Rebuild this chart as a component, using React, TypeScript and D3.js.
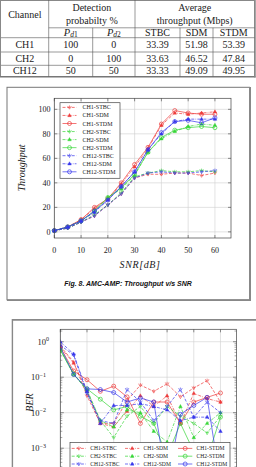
import React from 'react';
import * as d3 from 'd3';

// ---------- data ----------
const snr = [0, 5, 10, 15, 20, 25, 30, 35, 40, 45, 50, 55, 60];

const tpCh1Stbc = [1, 3, 8, 13, 22, 31, 44, 47, 47, 48, 48, 46, 48];
const tpCh1Sdm = [1, 4, 10, 19, 27, 39, 53, 68, 87, 97, 96, 97, 98];
const tpCh1Stdm = [1, 4, 10, 20, 27, 40, 55, 69, 88, 99, 97, 96, 96];
const tpCh2Stbc = [1, 3, 8, 14, 22, 32, 45, 48, 50, 49, 49, 50, 49];
const tpCh2Sdm = [1, 4, 9, 17, 28, 35, 46, 65, 76, 82, 86, 88, 87];
const tpCh2Stdm = [1, 4, 9, 17, 28, 36, 47, 65, 77, 83, 85, 86, 85];
const tpCh12Stbc = [1, 3, 8, 13, 22, 31, 44, 48, 49, 48, 48, 49, 50];
const tpCh12Sdm = [1, 4, 9, 16, 26, 37, 49, 67, 80, 90, 92, 92, 92];
const tpCh12Stdm = [1, 4, 9, 17, 26, 37, 49, 67, 81, 90, 91, 89, 93];

const berCh1Stbc = [0.75, 0.27, 0.03, 0.005, 0.005, 0.022, 0.06, 0.04, 0.065, 0.028, 0.05, 0.08, 0.02];
const berCh1Sdm = [0.7, 0.25, 0.04, 0.005, 0.004, 0.011, 0.03, 0.015, 0.03, 0.005, 0.035, 0.025, 0.02];
const berCh1Stdm = [0.7, 0.15, 0.085, 0.04, 0.056, 0.028, 0.005, 0.02, 0.02, 0.005, 0.02, 0.027, 0.036];
const berCh2Stbc = [0.6, 0.13, 0.04, 0.006, 0.002, 0.008, 0.015, 0.005, 0.015, 0.008, 0.005, 0.0027, 0.008];
const berCh2Sdm = [0.6, 0.12, 0.045, 0.006, 0.004, 0.012, 0.01, 0.003, 0.0015, 0.015, 0.002, 0.005, 0.01];
const berCh2Stdm = [0.58, 0.12, 0.047, 0.024, 0.012, 0.015, 0.008, 0.005, 0.0006, 0.005, 0.0008, 0.0005, 0.0075];
const berCh12Stbc = [0.8, 0.42, 0.035, 0.006, 0.005, 0.045, 0.02, 0.006, 0.015, 0.045, 0.0075, 0.02, 0.01];
const berCh12Sdm = [1.0, 0.45, 0.04, 0.005, 0.016, 0.016, 0.018, 0.015, 0.012, 0.006, 0.0075, 0.0075, 0.003];
const berCh12Stdm = [0.7, 0.12, 0.047, 0.045, 0.037, 0.02, 0.026, 0.02, 0.0001, 0.009, 0.016, 0.027, 0.0001];

const channels = ['CH1', 'CH2', 'CH12'];
const pd1 = ['100', '0', '50'];
const pd2 = ['0', '100', '50'];
const avgStbc = ['33.39', '33.63', '33.33'];
const avgSdm = ['51.98', '46.52', '49.09'];
const avgStdm = ['53.39', '47.84', '49.95'];

const xTicks = [0, 10, 20, 30, 40, 50, 60];
const tpTicks = [0, 20, 40, 60, 80, 100];
const berExps = [0, -1, -2, -3];

const seriesNames = [
  'CH1-STBC', 'CH1-SDM', 'CH1-STDM',
  'CH2-STBC', 'CH2-SDM', 'CH2-STDM',
  'CH12-STBC', 'CH12-SDM', 'CH12-STDM',
];
const tpData = [tpCh1Stbc, tpCh1Sdm, tpCh1Stdm, tpCh2Stbc, tpCh2Sdm, tpCh2Stdm, tpCh12Stbc, tpCh12Sdm, tpCh12Stdm];
const berData = [berCh1Stbc, berCh1Sdm, berCh1Stdm, berCh2Stbc, berCh2Sdm, berCh2Stdm, berCh12Stbc, berCh12Sdm, berCh12Stdm];

// ---------- styles ----------
const chanColors = ['#ee3b3b', '#36d636', '#3636ec'];
const kinds = ['stbc', 'sdm', 'stdm'];
const dashes: Record<string, string | undefined> = { stbc: '3,1.6', sdm: '3,1.2,0.7,1.2', stdm: undefined };

const series = seriesNames.map((name, i) => ({
  name,
  color: chanColors[Math.floor(i / 3)],
  kind: kinds[i % 3],
  tp: tpData[i],
  ber: berData[i],
}));

const SERIF = '"Liberation Serif", "DejaVu Serif", serif';
const SANS = '"Liberation Sans", Arial, sans-serif';

function Marker({ kind, x, y, color }: { kind: string; x: number; y: number; color: string }) {
  if (kind === 'stdm') return <circle cx={x} cy={y} r={2} fill="none" stroke={color} strokeWidth={0.7} />;
  if (kind === 'sdm')
    return <path d={`M${x},${y - 2}L${x + 1.8},${y + 1.2}L${x - 1.8},${y + 1.2}Z`} fill={color} stroke={color} strokeWidth={0.4} />;
  return <path d={`M${x - 1.8},${y - 1.4}L${x},${y + 1.8}L${x + 1.8},${y - 1.4}M${x},${y - 2}L${x},${y}`} fill="none" stroke={color} strokeWidth={0.6} />;
}

function Table() {
  const colX = [1, 48.7, 92.7, 135, 180, 213, 254.5];
  const cx = (i: number) => (colX[i] + colX[i + 1]) / 2;
  const rowY = [37.7, 52, 65.3, 76.7];
  const rows = channels.map((c, i) => [c, pd1[i], pd2[i], avgStbc[i], avgSdm[i], avgStdm[i]]);
  const line = '#555';
  return (
    <g fontFamily={SERIF} fontSize={10} fill="#222">
      <rect x={0.5} y={0.5} width={254} height={76} fill="none" stroke="#888" strokeWidth={1} />
      <line x1={0} x2={255.5} y1={76.8} y2={76.8} stroke="#777" strokeWidth={1.5} />
      <line x1={255} x2={255} y1={0} y2={77.5} stroke="#888" strokeWidth={1.5} />
      <line x1={48.7} x2={254.5} y1={27.8} y2={27.8} stroke={line} strokeWidth={0.6} />
      {rowY.slice(0, 3).map((y) => (
        <line key={y} x1={1} x2={254.5} y1={y} y2={y} stroke={line} strokeWidth={0.6} />
      ))}
      <line x1={48.7} x2={48.7} y1={0} y2={76.5} stroke={line} strokeWidth={0.6} />
      <line x1={135} x2={135} y1={0} y2={76.5} stroke={line} strokeWidth={0.6} />
      {[92.7, 180, 213].map((x) => (
        <line key={x} x1={x} x2={x} y1={27.8} y2={76.5} stroke={line} strokeWidth={0.6} />
      ))}
      <text x={cx(0)} y={18.3} textAnchor="middle">Channel</text>
      <text x={(48.7 + 135) / 2} y={11} textAnchor="middle">Detection</text>
      <text x={(48.7 + 135) / 2} y={24.3} textAnchor="middle">probabilty %</text>
      <text x={(135 + 254.5) / 2} y={11} textAnchor="middle">Average</text>
      <text x={(135 + 254.5) / 2} y={24.3} textAnchor="middle">throughput (Mbps)</text>
      {['1', '2'].map((s, i) => (
        <text key={s} x={cx(i + 1)} y={35.5} textAnchor="middle">
          <tspan fontStyle="italic" fontSize={10.5}>P</tspan>
          <tspan fontSize={7.5} dy={1.8}><tspan fontStyle="italic">d</tspan>{s}</tspan>
        </text>
      ))}
      <text x={cx(3)} y={36} textAnchor="middle">STBC</text>
      <text x={cx(4)} y={36} textAnchor="middle">SDM</text>
      <text x={cx(5)} y={36} textAnchor="middle">STDM</text>
      {rows.map((r, ri) =>
        r.map((v, ci) => (
          <text key={`${ri}-${ci}`} x={cx(ci)} y={(rowY[ri] + rowY[ri + 1]) / 2 + 3.4} textAnchor="middle">
            {v}
          </text>
        )),
      )}
    </g>
  );
}

function ThroughputChart() {
  const x = d3.scaleLinear().domain([0, 66]).range([54.3, 231]);
  const y = d3.scaleLinear().domain([-5, 109]).range([238, 98.3]);
  const [x0, x1] = x.range();
  const [y0, y1] = y.range();
  const line = d3.line<number>().x((_, i) => x(snr[i])).y((d) => y(d));
  return (
    <g>
      {xTicks.map((t) => (
        <line key={'gx' + t} x1={x(t)} x2={x(t)} y1={y0} y2={y1} stroke="#cfcfcf" strokeWidth={0.6} />
      ))}
      {tpTicks.map((t) => (
        <line key={'gy' + t} x1={x0} x2={x1} y1={y(t)} y2={y(t)} stroke="#cfcfcf" strokeWidth={0.6} />
      ))}
      {xTicks.map((t) => (
        <g key={'tx' + t}>
          <line x1={x(t)} x2={x(t)} y1={y0} y2={y0 - 3} stroke="#444" strokeWidth={0.6} />
          <line x1={x(t)} x2={x(t)} y1={y1} y2={y1 + 3} stroke="#444" strokeWidth={0.6} />
          <text x={x(t)} y={253} textAnchor="middle" fontFamily={SERIF} fontSize={8} fill="#222">{t}</text>
        </g>
      ))}
      {tpTicks.map((t) => (
        <g key={'ty' + t}>
          <line x1={x0} x2={x0 + 3} y1={y(t)} y2={y(t)} stroke="#444" strokeWidth={0.6} />
          <line x1={x1} x2={x1 - 3} y1={y(t)} y2={y(t)} stroke="#444" strokeWidth={0.6} />
          <text x={50.5} y={y(t) + 2.8} textAnchor="end" fontFamily={SERIF} fontSize={8} fill="#222">{t}</text>
        </g>
      ))}
      {series.map((s) => (
        <g key={s.name}>
          <path d={line(s.tp) || ''} fill="none" stroke={s.color} strokeWidth={0.7} strokeDasharray={dashes[s.kind]} />
          {s.tp.map((v, i) => (
            <Marker key={i} kind={s.kind} x={x(snr[i])} y={y(v)} color={s.color} />
          ))}
        </g>
      ))}
      <rect x={x0} y={y1} width={x1 - x0} height={y0 - y1} fill="none" stroke="#444" strokeWidth={0.7} />
      {/* legend */}
      <rect x={60} y={102.7} width={60} height={75.6} fill="#fff" stroke="#444" strokeWidth={0.7} />
      {series.map((s, i) => {
        const ly = 107.4 + i * 8.05;
        return (
          <g key={'lg' + s.name}>
            <line x1={62.5} x2={76.5} y1={ly} y2={ly} stroke={s.color} strokeWidth={0.7} strokeDasharray={dashes[s.kind]} />
            <Marker kind={s.kind} x={69.5} y={ly} color={s.color} />
            <text x={82.5} y={ly + 2} fontFamily={SERIF} fontSize={6} fill="#222">{s.name}</text>
          </g>
        );
      })}
      <text transform={`translate(24.5,168) rotate(-90)`} textAnchor="middle" fontFamily={SERIF} fontStyle="italic" fontSize={10} fill="#222">
        Throughput
      </text>
      <text x={140} y={268} textAnchor="middle" fontFamily={SERIF} fontStyle="italic" fontSize={10} letterSpacing={0.6} fill="#222">
        SNR[dB]
      </text>
    </g>
  );
}

function BerChart() {
  const x = d3.scaleLinear().domain([0, 66]).range([60.3, 236.5]);
  const y = d3.scaleLog().domain([1e-5, Math.pow(10, 0.35)]).range([519.2, 329.3]);
  const [x0, x1] = x.range();
  const [y0, y1] = y.range();
  const line = d3.line<number>().x((_, i) => x(snr[i])).y((d) => y(d));
  const minor: number[] = [];
  for (let e = -5; e <= 0; e++) for (let m = 2; m <= 9; m++) {
    const v = m * Math.pow(10, e);
    if (v < Math.pow(10, 0.35)) minor.push(v);
  }
  return (
    <g>
      <defs>
        <clipPath id="berclip">
          <rect x={x0} y={y1} width={x1 - x0} height={y0 - y1} />
        </clipPath>
      </defs>
      {xTicks.map((t) => (
        <line key={'gx' + t} x1={x(t)} x2={x(t)} y1={y0} y2={y1} stroke="#cfcfcf" strokeWidth={0.6} />
      ))}
      {berExps.map((e) => (
        <line key={'gy' + e} x1={x0} x2={x1} y1={y(Math.pow(10, e))} y2={y(Math.pow(10, e))} stroke="#cfcfcf" strokeWidth={0.6} />
      ))}
      {xTicks.map((t) => (
        <line key={'tx' + t} x1={x(t)} x2={x(t)} y1={y1} y2={y1 + 3} stroke="#444" strokeWidth={0.6} />
      ))}
      {berExps.map((e) => (
        <g key={'ty' + e}>
          <line x1={x0} x2={x0 + 3.5} y1={y(Math.pow(10, e))} y2={y(Math.pow(10, e))} stroke="#444" strokeWidth={0.6} />
          <line x1={x1} x2={x1 - 3.5} y1={y(Math.pow(10, e))} y2={y(Math.pow(10, e))} stroke="#444" strokeWidth={0.6} />
          <text x={e === 0 ? 49 : 46} y={y(Math.pow(10, e)) + 3} textAnchor="end" fontFamily={SERIF} fontSize={8.5} fill="#222">
            10
            <tspan fontSize={6} dy={-3.5}>{e === 0 ? '0' : '\u2212' + -e}</tspan>
          </text>
        </g>
      ))}
      {minor.map((v, i) => (
        <g key={'mn' + i}>
          <line x1={x0} x2={x0 + 2} y1={y(v)} y2={y(v)} stroke="#555" strokeWidth={0.5} />
          <line x1={x1} x2={x1 - 2} y1={y(v)} y2={y(v)} stroke="#555" strokeWidth={0.5} />
        </g>
      ))}
      <g clipPath="url(#berclip)">
        {series.map((s) => (
          <g key={s.name}>
            <path d={line(s.ber) || ''} fill="none" stroke={s.color} strokeWidth={0.7} strokeDasharray={dashes[s.kind]} />
            {s.ber.map((v, i) => (
              <Marker key={i} kind={s.kind} x={x(snr[i])} y={y(v)} color={s.color} />
            ))}
          </g>
        ))}
      </g>
      <rect x={x0} y={y1} width={x1 - x0} height={y0 - y1} fill="none" stroke="#444" strokeWidth={0.7} />
      {/* legend */}
      <rect x={70} y={442.5} width={160} height={30} fill="#fff" stroke="#444" strokeWidth={0.7} />
      {series.map((s, i) => {
        const col = i % 3;
        const row = Math.floor(i / 3);
        const lx = [71.7, 125, 178][col];
        const ly = 448.4 + row * 7.8;
        return (
          <g key={'lg' + s.name}>
            <line x1={lx} x2={lx + 14.3} y1={ly} y2={ly} stroke={s.color} strokeWidth={0.7} strokeDasharray={dashes[s.kind]} />
            <Marker kind={s.kind} x={lx + 7.15} y={ly} color={s.color} />
            <text x={lx + 18.5} y={ly + 1.9} fontFamily={SERIF} fontSize={5.6} fill="#222">{s.name}</text>
          </g>
        );
      })}
      <text transform={`translate(32.5,402.5) rotate(-90)`} textAnchor="middle" fontFamily={SERIF} fontStyle="italic" fontSize={10} fill="#222">
        BER
      </text>
    </g>
  );
}

export default function App() {
  return (
    <svg width={256} height={467} viewBox="0 0 256 467" style={{ position: 'absolute', left: 0, top: 0, background: '#fff' }}>
      <rect x={0} y={0} width={256} height={467} fill="#fff" />
      <Table />
      {/* figure 1 frame */}
      <rect x={7} y={87.3} width={242.5} height={212.5} fill="none" stroke="#777" strokeWidth={1} />
      <line x1={250} x2={250} y1={87} y2={301} stroke="#888" strokeWidth={2} />
      <line x1={7} x2={251} y1={300.3} y2={300.3} stroke="#888" strokeWidth={1.6} />
      <ThroughputChart />
      <text x={128} y={285.5} textAnchor="middle" fontFamily={SANS} fontStyle="italic" fontWeight="bold" fontSize={7} fill="#111">
        Fig. 8. AMC-AMP: Throughput v/s SNR
      </text>
      {/* figure 2 frame */}
      <line x1={12} x2={256} y1={319.8} y2={319.8} stroke="#888" strokeWidth={1.8} />
      <line x1={12.4} x2={12.4} y1={319} y2={467} stroke="#888" strokeWidth={1.4} />
      <BerChart />
    </svg>
  );
}
